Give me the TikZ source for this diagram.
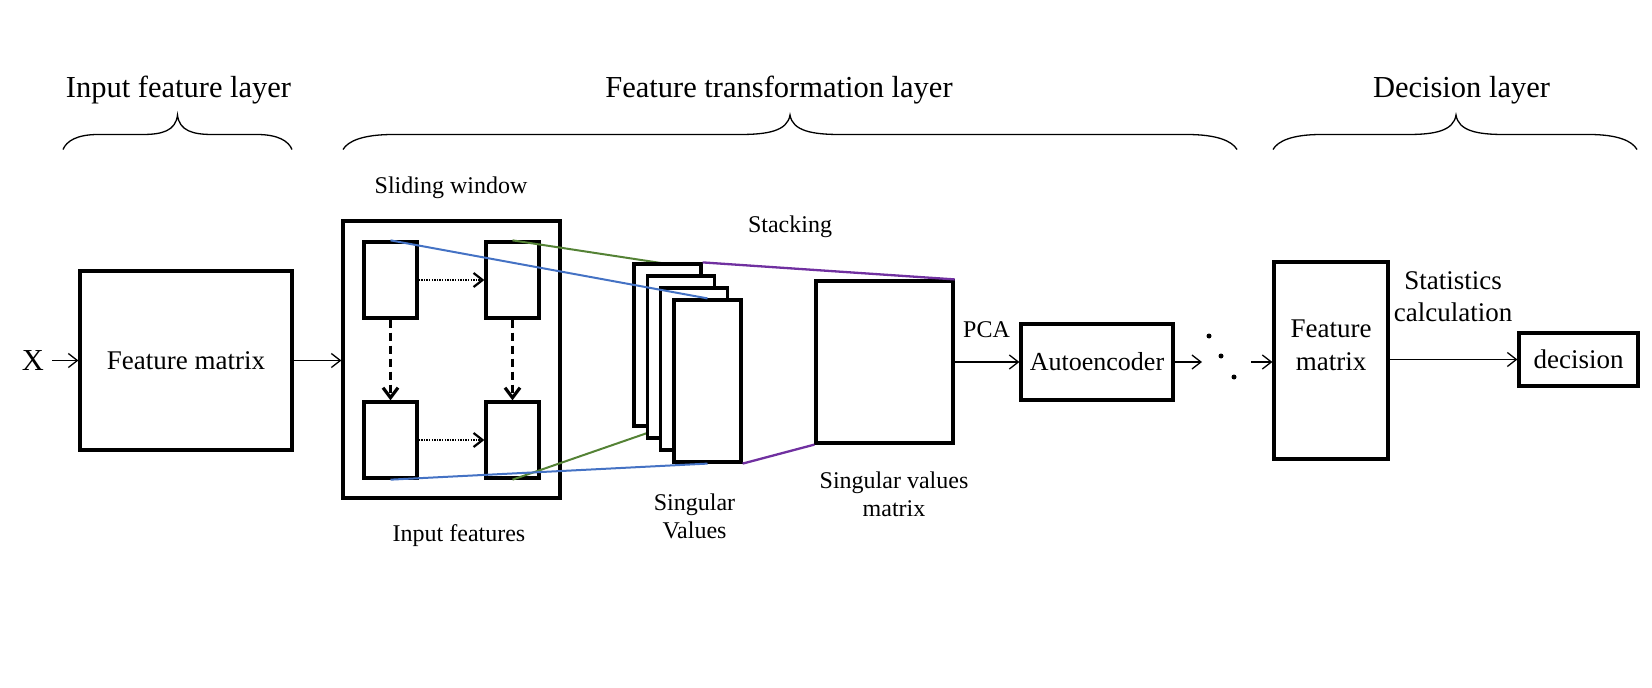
\documentclass[tikz,border=0pt]{standalone}
\usepackage{fontspec}
\setmainfont{Liberation Serif}
\usetikzlibrary{arrows.meta}
\definecolor{lblue}{HTML}{4472C4}
\definecolor{lgreen}{HTML}{548235}
\definecolor{lpurple}{HTML}{7030A0}
\newcommand\myfs[2]{\fontsize{#1}{#2}\selectfont}
% x1, tip x, x2, curve width
\newcommand\layerbrace[4]{%
 \draw[bracestyle] (#1,149.5) .. controls ({#1+0.1*#4},141) and ({#1+0.4*#4},134.5) .. ({#1+#4},134.5)
   -- ({#2-#4},134.5) .. controls ({#2-0.45*#4},134.5) and ({#2-0.05*#4},131) .. (#2,115)
   .. controls ({#2+0.05*#4},131) and ({#2+0.45*#4},134.5) .. ({#2+#4},134.5)
   -- ({#3-#4},134.5) .. controls ({#3-0.4*#4},134.5) and ({#3-0.1*#4},141) .. (#3,149.5);}
\begin{document}
\begin{tikzpicture}[x=1pt,y=-1pt,
 box/.style={draw, line width=3.2pt, inner sep=0pt, font=\myfs{27}{32}},
 win/.style={draw, line width=3.3pt, minimum width=53pt, minimum height=76pt, inner sep=0pt},
 stk/.style={draw, fill=white, line width=3.2pt, minimum width=67pt, minimum height=162pt, inner sep=0pt},
 title/.style={anchor=base, inner sep=0pt, font=\myfs{30.5}{36}},
 lbl/.style={anchor=base, inner sep=0pt, font=\myfs{24}{28}},
 lbltwo/.style={anchor=north, inner sep=0pt, align=center, font=\myfs{24}{28}},
 lblbig/.style={anchor=north, inner sep=0pt, align=center, font=\myfs{27}{32}},
 arr/.style={line width=1.3pt, -{Straight Barb[length=9pt,width=14pt]}},
 dotarr/.style={line width=2.2pt, dash pattern=on 1.3pt off 1.3pt, -{Straight Barb[length=9pt,width=14pt]}},
 dasharr/.style={line width=3.2pt, dash pattern=on 8pt off 5pt, -{Straight Barb[length=10pt,width=15pt]}},
 bracestyle/.style={line width=1.3pt},
 conn/.style={line width=2pt},
 dot/.style={circle, fill, inner sep=0pt, minimum size=5pt},
]
\useasboundingbox (0,0) rectangle (1652,688);

% layer titles and braces
\node[title] (tin) at (178.5,97) {Input feature layer};
\node[title] (ttr) at (779,97) {Feature transformation layer};
\node[title] (tdec) at (1461.5,97) {Decision layer};
\layerbrace{63}{177.5}{292}{35}
\layerbrace{343}{790}{1237}{50}
\layerbrace{1273}{1456}{1637}{48}

% input layer
\node[font=\myfs{30.5}{36}, inner sep=0pt, text depth=0pt] (X) at (33,360.5) {X};
\node[box, minimum width=212pt, minimum height=179pt] (fm1) at (186,360.5) {Feature matrix};
\draw[arr] ([xshift=8pt]X.east) -- (X.east -| fm1.west);

% sliding window
\node[lbl] (swl) at (451,193) {Sliding window};
\node[draw, line width=3.2pt, minimum width=217pt, minimum height=277pt, inner sep=0pt] (sw) at (451.5,359.5) {};
\draw[arr] (fm1.east) -- (fm1.east -| sw.west);
\node[win] (tl) at (390.5,280) {};
\node[win] (tr) at (512.5,280) {};
\node[win] (bl) at (390.5,440) {};
\node[win] (br) at (512.5,440) {};
\draw[dotarr] (tl.east) -- (tr.west);
\draw[dotarr] (bl.east) -- (br.west);
\draw[dasharr] (tl.south) -- (bl.north);
\draw[dasharr] (tr.south) -- (br.north);
\node[lbl] (inf) at (459,541) {Input features};

% stacking
\coordinate (r1top) at (667.5,264);
\coordinate (r1bot) at (667.5,426);
\draw[conn, lgreen] (tr.north) -- (r1top);
\draw[conn, lgreen] (br.south) -- (r1bot);
\node[stk] (r1) at (667.5,345) {};
\node[stk] (r2) at (681,357) {};
\node[stk] (r3) at (694,369) {};
\node[stk] (r4) at (707.5,381) {};
\draw[conn, lblue] (tl.north) -- (r4.north);
\draw[conn, lblue] (bl.south) -- (r4.south);
\node[lbl] (stl) at (790,232) {Stacking};
\node[lbltwo] (svl) at (694.5,490.4) {\strut Singular\\\strut Values};

% singular values matrix
\node[draw, line width=3.2pt, minimum width=137pt, minimum height=162pt, inner sep=0pt] (svm) at (884.5,362) {};
\draw[conn, lpurple, line width=2.3pt] (r1.north east) -- (svm.north east);
\draw[conn, lpurple, line width=2.3pt] (r4.south east) -- (svm.south west);
\node[lbltwo] (svml) at (894,468.4) {\strut Singular values\\\strut matrix};

% PCA and autoencoder
\node[lbl] (pca) at (986.5,337) {PCA};
\node[box, minimum width=152pt, minimum height=76pt, font=\myfs{26}{30}] (ae) at (1097,362) {Autoencoder};
\draw[arr] (svm.east |- ae.west) -- (ae.west);
\coordinate (e1) at (1202,362);
\coordinate (e2) at (1251,362);
\draw[arr] (ae.east) -- (e1);
\node[dot] (d1) at (1209,336) {};
\node[dot] (d2) at (1221,356) {};
\node[dot] (d3) at (1234,377) {};

% decision layer
\node[box, minimum width=114pt, minimum height=197pt] (fm2) at (1331,360.5) {};
\node[lblbig, font=\myfs{27}{33}] (fm2l) at (1331,313.9) {\strut Feature\\\strut matrix};
\draw[arr] (e2) -- (e2 -| fm2.west);
\node[box, minimum width=119pt, minimum height=53pt] (dec) at (1578.5,359.5) {decision};
\draw[arr] (fm2.east |- dec.west) -- (dec.west);
\node[lblbig] (stc) at (1453,266.6) {\strut Statistics\\\strut calculation};
\end{tikzpicture}
\end{document}
